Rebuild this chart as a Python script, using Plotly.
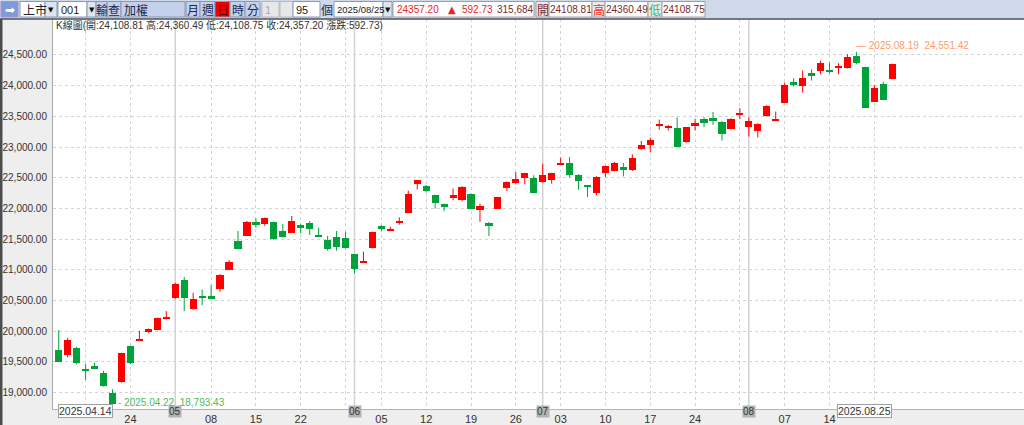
import datetime as dt
import plotly.graph_objects as go

# ---------------- data ----------------
dates = [
    "2025-04-14", "2025-04-15", "2025-04-16", "2025-04-17", "2025-04-18",
    "2025-04-21", "2025-04-22", "2025-04-23", "2025-04-24", "2025-04-25",
    "2025-04-28", "2025-04-29", "2025-04-30",
    "2025-05-02", "2025-05-05", "2025-05-06", "2025-05-07", "2025-05-08",
    "2025-05-09", "2025-05-12", "2025-05-13", "2025-05-14", "2025-05-15",
    "2025-05-16", "2025-05-19", "2025-05-20", "2025-05-21", "2025-05-22",
    "2025-05-23", "2025-05-26", "2025-05-27", "2025-05-28", "2025-05-29",
    "2025-06-02", "2025-06-03", "2025-06-04", "2025-06-05", "2025-06-06",
    "2025-06-09", "2025-06-10", "2025-06-11", "2025-06-12", "2025-06-13",
    "2025-06-16", "2025-06-17", "2025-06-18", "2025-06-19", "2025-06-20",
    "2025-06-23", "2025-06-24", "2025-06-25", "2025-06-26", "2025-06-27",
    "2025-06-30",
    "2025-07-01", "2025-07-02", "2025-07-03", "2025-07-04", "2025-07-07",
    "2025-07-08", "2025-07-09", "2025-07-10", "2025-07-11", "2025-07-14",
    "2025-07-15", "2025-07-16", "2025-07-17", "2025-07-18", "2025-07-21",
    "2025-07-22", "2025-07-23", "2025-07-24", "2025-07-25", "2025-07-28",
    "2025-07-29", "2025-07-30", "2025-07-31",
    "2025-08-01", "2025-08-04", "2025-08-05", "2025-08-06", "2025-08-07",
    "2025-08-08", "2025-08-11", "2025-08-12", "2025-08-13", "2025-08-14",
    "2025-08-15", "2025-08-18", "2025-08-19", "2025-08-20", "2025-08-21",
    "2025-08-22", "2025-08-25",
]

opens = [
    19694, 19612, 19732, 19390, 19428, 19314, 18989, 19168, 19755, 19862,
    19981, 20019, 20219, 20534, 20832, 20355, 20561, 20556, 20696, 21000,
    21476, 21557, 21779, 21747, 21779, 21633, 21606, 21730, 21768, 21568,
    21486, 21530, 21524, 21253, 21123, 21351, 21698, 21638, 21774, 21931,
    22392, 22364, 22215, 22058, 22172, 22145, 22232, 21972, 21749, 21999,
    22340, 22421, 22503, 22503, 22432, 22470, 22720, 22747, 22541, 22373,
    22259, 22579, 22611, 22676, 22622, 22974, 23039, 23365, 23318, 23308,
    23075, 23367, 23454, 23470, 23416, 23297, 23535, 23335, 23270, 23508,
    23438, 23725, 24045, 23996, 24191, 24245, 24251, 24283, 24283, 24484,
    24299, 23741, 24028, 24108.81,
]
highs = [
    20019, 19894, 19748, 19466, 19488, 19358, 19054, 19650, 19765, 20008,
    20046, 20225, 20328, 20789, 20886, 20626, 20680, 20751, 20930, 21160,
    21633, 21795, 21839, 21855, 21785, 21747, 21877, 21747, 21795, 21687,
    21552, 21633, 21622, 21258, 21297, 21625, 21730, 21703, 21855, 22289,
    22465, 22381, 22225, 22080, 22324, 22362, 22243, 22080, 21782, 22190,
    22443, 22595, 22582, 22541, 22730, 22582, 22828, 22839, 22557, 22375,
    22524, 22698, 22757, 22741, 22882, 23099, 23153, 23446, 23362, 23486,
    23326, 23459, 23486, 23573, 23427, 23470, 23633, 23486, 23389, 23682,
    23579, 24050, 24121, 24245, 24267, 24408, 24375, 24365, 24511, 24551.42,
    24310, 24012, 24066, 24360.49,
]
lows = [
    19500, 19575, 19461, 19206, 19390, 19098, 18793.43, 19160, 19466, 19860,
    19975, 20015, 20192, 20530, 20328, 20350, 20425, 20548, 20642, 20995,
    21335, 21550, 21687, 21714, 21486, 21524, 21600, 21595, 21568, 21550,
    21313, 21313, 21350, 20944, 21120, 21348, 21633, 21635, 21736, 21925,
    22310, 22262, 21999, 21955, 22134, 22118, 21988, 21782, 21549, 21995,
    22286, 22394, 22394, 22255, 22416, 22405, 22718, 22503, 22308, 22188,
    22215, 22514, 22606, 22524, 22611, 22958, 22920, 23283, 23270, 22995,
    23070, 23270, 23324, 23362, 23107, 23292, 23454, 23172, 23156, 23497,
    23436, 23720, 23985, 23888, 24083, 24186, 24202, 24186, 24280, 24348,
    23633, 23738, 23764.47, 24108.75,
]
closes = [
    19504, 19856, 19477, 19352, 19401, 19108, 18810, 19640, 19484, 19870,
    20030, 20219, 20230, 20778, 20534, 20518, 20556, 20550, 20913, 21130,
    21340, 21785, 21747, 21839, 21508, 21541, 21801, 21676, 21660, 21552,
    21335, 21367, 21351, 21010, 21134, 21622, 21687, 21665, 21790, 22234,
    22462, 22289, 22085, 22047, 22215, 22351, 21999, 22037, 21738, 22188,
    22432, 22486, 22579, 22259, 22541, 22579, 22736, 22541, 22443, 22362,
    22514, 22687, 22747, 22622, 22828, 23039, 23110, 23375, 23346, 22999,
    23324, 23378, 23389, 23427, 23210, 23459, 23546, 23432, 23378, 23671,
    23449, 24012, 24034, 24131, 24180, 24364, 24240, 24327, 24473, 24364,
    23633, 23958, 23764.47, 24357.20,
]

y_tick_values = [19000, 19500, 20000, 20500, 21000, 21500, 22000, 22500,
                 23000, 23500, 24000, 24500]

info_text = "K線圖(開:24,108.81 高:24,360.49 低:24,108.75 收:24,357.20 漲跌:592.73)"
low_label = "- 2025.04.22  18,793.43"
high_label = "— 2025.08.19  24,551.42"

# ---------------- styles / layout constants ----------------
W, H = 1024, 425
ML, MT, MB = 53, 19, 16
UP = "#ff0000"
DOWN = "#00a23a"
FONT = "Liberation Sans, Noto Sans CJK TC, sans-serif"
CJK = "Noto Sans CJK TC, Liberation Sans, sans-serif"


def px(x):
    return (x - ML) / (W - ML)


def py(y):
    return (H - MB - y) / (H - MT - MB)


n = len(dates)
dobj = [dt.date.fromisoformat(d) for d in dates]
month_starts = [i for i in range(1, n) if dobj[i].month != dobj[i - 1].month]
thursdays = [i for i in range(n) if dobj[i].weekday() == 3]

fig = go.Figure()

# wicks
for up in (True, False):
    wx, wy = [], []
    for i in range(n):
        if (closes[i] >= opens[i]) == up:
            wx += [i, i, None]
            wy += [lows[i], highs[i], None]
    fig.add_trace(go.Scatter(x=wx, y=wy, mode="lines",
                             line=dict(color=UP if up else DOWN, width=1),
                             hoverinfo="skip", showlegend=False))

# bodies
min_body = 28
for up in (True, False):
    bx, bbase, bh = [], [], []
    for i in range(n):
        if (closes[i] >= opens[i]) == up:
            lo = min(opens[i], closes[i])
            hgt = abs(closes[i] - opens[i])
            if hgt < min_body:
                lo = (opens[i] + closes[i]) / 2 - min_body / 2
                hgt = min_body
            bx.append(i)
            bbase.append(lo)
            bh.append(hgt)
    fig.add_trace(go.Bar(x=bx, y=bh, base=bbase, width=0.8,
                         marker=dict(color=UP if up else DOWN, line=dict(width=0)),
                         hoverinfo="skip", showlegend=False))

# x tick labels (Thursday grid)
tick_text = []
for i in thursdays:
    hide = i <= 5 or i >= n - 5 or any(abs(i - m) <= 1 for m in month_starts)
    tick_text.append("" if hide else f"{dobj[i].day:02d}")

shapes = []
annotations = []

# month separator lines
for m in month_starts:
    shapes.append(dict(type="line", xref="x", yref="paper", x0=m, x1=m, y0=0, y1=1,
                       line=dict(color="#d2d2d2", width=1.5), layer="below"))
    annotations.append(dict(xref="x", yref="paper", x=m, y=py(418.5),
                            text=f"{dobj[m].month:02d}", showarrow=False,
                            font=dict(family=FONT, size=10, color="#333333"),
                            bgcolor="#b3b3b3", borderpad=0))

# first / last date boxes
annotations.append(dict(xref="x", yref="paper", x=0, y=py(418.5), xanchor="left",
                        xshift=-1, text=dobj[0].strftime("%Y.%m.%d"), showarrow=False,
                        font=dict(family=FONT, size=10.5, color="#333333"),
                        bgcolor="#ffffff", bordercolor="#a0a0a0", borderwidth=1, borderpad=0))
annotations.append(dict(xref="x", yref="paper", x=n - 1, y=py(418.5), xanchor="right",
                        text=dobj[-1].strftime("%Y.%m.%d"), showarrow=False,
                        font=dict(family=FONT, size=10.5, color="#333333"),
                        bgcolor="#ffffff", bordercolor="#a0a0a0", borderwidth=1, borderpad=0))

# extreme labels
i_low = min(range(n), key=lambda i: lows[i])
i_high = max(range(n), key=lambda i: highs[i])
annotations.append(dict(x=i_low, y=lows[i_low], xanchor="left", yanchor="middle",
                        xshift=3, yshift=3, text=low_label, showarrow=False,
                        font=dict(family=FONT, size=10, color="#4cbb5a")))
annotations.append(dict(x=i_high, y=highs[i_high], xanchor="left", yanchor="bottom",
                        xshift=-2, yshift=-1, text=high_label, showarrow=False,
                        font=dict(family=FONT, size=10, color="#ff9a6a")))

# info line
annotations.append(dict(xref="paper", yref="paper", x=px(54), y=py(25), xanchor="left",
                        yanchor="middle", text=info_text, showarrow=False,
                        font=dict(family=FONT, size=10, color="#333333")))

# left dark strip
shapes.append(dict(type="rect", xref="paper", yref="paper", x0=px(0), x1=px(2.5),
                   y0=py(425), y1=py(19), fillcolor="#4d4d4d", line=dict(width=0)))

# ---------------- toolbar ----------------
shapes.append(dict(type="rect", xref="paper", yref="paper", x0=px(0), x1=px(1024),
                   y0=py(18.5), y1=py(0), fillcolor="#cfd9ea", line=dict(width=0)))
shapes.append(dict(type="line", xref="paper", yref="paper", x0=px(0), x1=px(1024),
                   y0=py(19), y1=py(19), line=dict(color="#4a5060", width=1.5)))

BLUE_BTN = "#c3d1ea"
toolbar = [
    # x0, x1, fill, border, text, text colour, size, align, font
    (1, 18, "#7d9bd6", "#b58ad0", "➡", "#ffffff", 12, "c", "DejaVu Sans"),
    (20, 45, "#ffffff", "#8a98b4", "上市", "#222222", 12, "l", CJK),
    (45, 57, "#dfe5ef", "#8a98b4", "▼", "#111111", 7, "c", "DejaVu Sans"),
    (58, 87, "#ffffff", "#8a98b4", "001", "#222222", 11, "l", FONT),
    (87, 96, "#dfe5ef", "#8a98b4", "▼", "#111111", 7, "c", "DejaVu Sans"),
    (96, 107, BLUE_BTN, "#8a98b4", "輸", "#1a2850", 12, "c", CJK),
    (107, 121, BLUE_BTN, "#8a98b4", "查", "#1a2850", 12, "c", CJK),
    (121, 185, BLUE_BTN, "#8a98b4", "加權", "#1a2850", 12, "l", CJK),
    (186, 200, BLUE_BTN, "#8a98b4", "月", "#1a2850", 12, "c", CJK),
    (200, 215, BLUE_BTN, "#8a98b4", "週", "#1a2850", 12, "c", CJK),
    (215, 230, "#ee0000", "#8a98b4", "日", "#5a0000", 12, "c", CJK),
    (230, 245, BLUE_BTN, "#8a98b4", "時", "#1a2850", 12, "c", CJK),
    (245, 260, BLUE_BTN, "#8a98b4", "分", "#1a2850", 12, "c", CJK),
    (262, 279, "#e8e8e8", "#b8b8b8", "1", "#aaaaaa", 11, "l", FONT),
    (280, 293, "#e8e8e8", "#b8b8b8", "", "#aaaaaa", 11, "l", FONT),
    (293, 320, "#ffffff", "#8a98b4", "95", "#222222", 11, "l", FONT),
    (320, 333, None, None, "個", "#1a2850", 12, "c", CJK),
    (334, 383, "#ffffff", "#8a98b4", "2025/08/25", "#222222", 9.5, "l", FONT),
    (383, 392, "#dfe5ef", "#8a98b4", "▼", "#111111", 7, "c", "DejaVu Sans"),
    (393, 534, "#ffffff", "#a0a0a0", "", "#222222", 11, "l", FONT),
    (536, 549, "#ebebeb", "#a0a0a0", "開", "#7a2a2a", 12, "c", CJK),
    (549, 592, "#ffffff", "#a0a0a0", "24108.81", "#7a2a2a", 10, "c", FONT),
    (592, 605, "#ebebeb", "#a0a0a0", "高", "#ff2a2a", 12, "c", CJK),
    (605, 648, "#ffffff", "#a0a0a0", "24360.49", "#7a2a2a", 10, "c", FONT),
    (648, 662, "#ebebeb", "#a0a0a0", "低", "#33bb55", 12, "c", CJK),
    (662, 705, "#ffffff", "#a0a0a0", "24108.75", "#7a2a2a", 10, "c", FONT),
]
for x0, x1, fill, border, text, tcol, size, align, fam in toolbar:
    if fill:
        shapes.append(dict(type="rect", xref="paper", yref="paper", x0=px(x0), x1=px(x1),
                           y0=py(17), y1=py(1.5), fillcolor=fill,
                           line=dict(color=border, width=1)))
    if text:
        if align == "c":
            annotations.append(dict(xref="paper", yref="paper", x=px((x0 + x1) / 2),
                                    y=py(9.5), xanchor="center", yanchor="middle",
                                    text=text, showarrow=False,
                                    font=dict(family=fam, size=size, color=tcol)))
        else:
            annotations.append(dict(xref="paper", yref="paper", x=px(x0 + 1),
                                    y=py(9.5), xanchor="left", yanchor="middle",
                                    text=text, showarrow=False,
                                    font=dict(family=fam, size=size, color=tcol)))

quote = [
    (418, "24357.20", "#ee2222", 10, FONT),
    (452, "▲", "#ee2222", 10, "DejaVu Sans"),
    (477, "592.73", "#ee2222", 10, FONT),
    (515, "315,684", "#7a2a2a", 10, FONT),
]
for cx, text, col, size, fam in quote:
    annotations.append(dict(xref="paper", yref="paper", x=px(cx), y=py(9.5),
                            xanchor="center", yanchor="middle", text=text, showarrow=False,
                            font=dict(family=fam, size=size, color=col)))

fig.update_layout(
    width=W, height=H,
    margin=dict(l=ML, r=0, t=MT, b=MB, pad=0, autoexpand=False),
    paper_bgcolor="#eeeeee",
    plot_bgcolor="#ffffff",
    barmode="overlay",
    bargap=0,
    showlegend=False,
    shapes=shapes,
    annotations=annotations,
    xaxis=dict(range=[-0.64, 107.7], tickmode="array", tickvals=thursdays,
               ticktext=tick_text, showgrid=True, gridcolor="#d4d4d4", griddash="dot",
               gridwidth=1, zeroline=False, showline=True, linecolor="#b4b4b4",
               ticks="", automargin=False,
               tickfont=dict(family=FONT, size=11, color="#333333"),
               fixedrange=True),
    yaxis=dict(range=[18734, 25086], tickmode="array", tickvals=y_tick_values,
               tickformat=",.2f", showgrid=True, gridcolor="#d4d4d4", griddash="dot",
               gridwidth=1, zeroline=False, showline=True, linecolor="#a8a8a8",
               ticks="", ticklabelstandoff=3, automargin=False,
               tickfont=dict(family=FONT, size=10, color="#333333"),
               fixedrange=True),
)

fig.write_html("out.html", config={"displayModeBar": False},
               post_script="document.body.style.margin='0';document.body.style.padding='0';")
